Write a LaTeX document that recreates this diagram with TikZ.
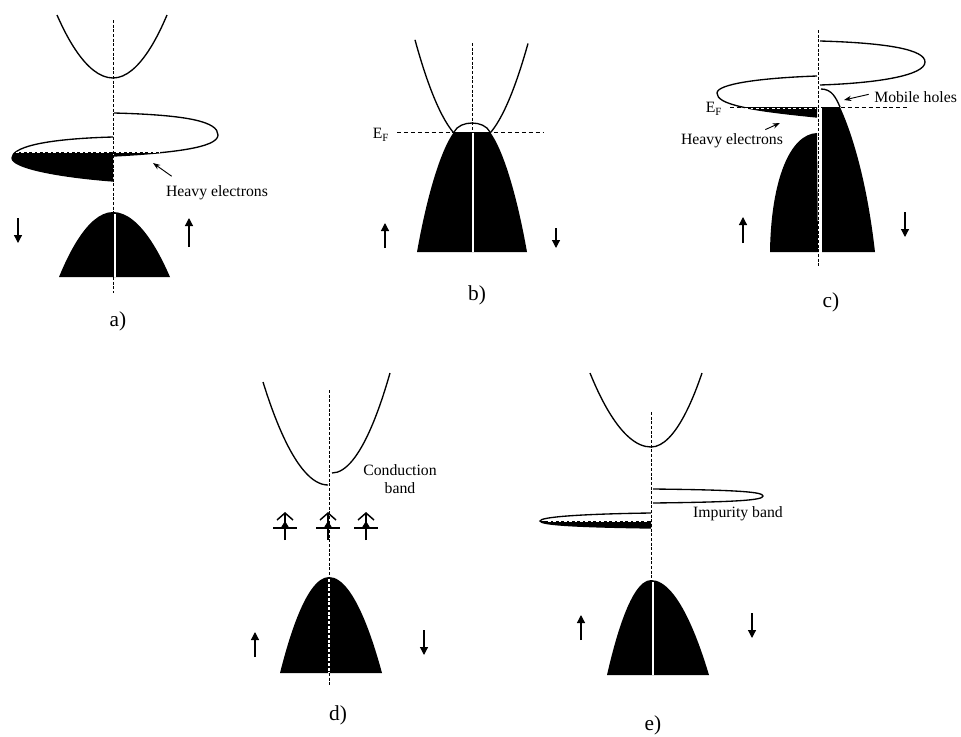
\documentclass[tikz,border=0pt]{standalone}
\usepackage{fontspec}
\setmainfont{Liberation Serif}
\usetikzlibrary{arrows.meta}
\begin{document}
\begin{tikzpicture}[x=0.75pt,y=-0.75pt,
  band/.style={line width=1pt},
  axisline/.style={line width=0.75pt, dash pattern=on 2.2pt off 1.3pt},
  efline/.style={line width=0.75pt, dash pattern=on 3pt off 2.2pt},
  fermiwhite/.style={white, line width=0.5pt, dash pattern=on 2pt off 2pt},
  gapline/.style={white, line width=1.4pt},
  spin/.style={line width=0.9pt, -{Triangle[length=6pt,width=6pt]}},
  pointer/.style={line width=0.7pt, -{Stealth[length=5.5pt,width=4pt]}},
  lbl/.style={font=\fontsize{11.8}{13.5}\selectfont, inner sep=0pt},
  panel/.style={font=\fontsize{16}{18}\selectfont, inner sep=0pt},
  implevel/.pic={
    \draw[line width=1.1pt] (-12,0) -- (12,0);
    \draw[line width=1.1pt] (0,12) -- (0,-15);
    \draw[line width=1.1pt] (-8,-8) -- (0,-15) -- (8,-8);
    \fill (-4,-0.5) -- (0,-7) -- (4,-0.5) -- cycle;
  }]
\useasboundingbox (0,0) rectangle (961,736);

% ================= panel a =================
\draw[axisline] (113,20) -- (113,212);
\draw[axisline] (113,277) -- (113,293);
\draw[band] (57,15) parabola bend (113,78) (167,15);
% right lobe
\begin{scope}
  \clip (113,152) rectangle (230,170);
  \fill (114,113) .. controls (190,115) and (218,122) .. (218,135) .. controls (218,148) and (170,153) .. (114,156) -- cycle;
\end{scope}
\draw[band] (114,113) .. controls (190,115) and (218,122) .. (218,135) .. controls (218,148) and (170,153) .. (114,156);
% left lobe
\begin{scope}
  \clip (0,152) rectangle (113,200);
  \fill (113,137) .. controls (40,139) and (12,148) .. (12,158) .. controls (12,168) and (60,177) .. (113,181) -- cycle;
\end{scope}
\draw[band] (113,137) .. controls (40,139) and (12,148) .. (12,158) .. controls (12,168) and (60,177) .. (113,181);
\draw[fermiwhite] (16,152.8) -- (112,152.8);
\draw[fermiwhite] (116,152.8) -- (160,152.8);
% valence
\fill (59,277) parabola bend (113,212) (170,277) -- cycle;
\draw[gapline] (115,214) -- (115,277);
\draw[spin] (18,218) -- (18,243);
\draw[spin] (189,247) -- (189,218);
\node[lbl] (hea) at (217,193) {Heavy electrons};
\coordinate (hetipa) at (153,163);
\draw[pointer] ([shift={(-34pt,7pt)}]hea.north) -- (hetipa);
\node[panel] (la) at (118,321) {a)};

% ================= panel b =================
\draw[band] plot[domain=-57:-18.3, samples=30] ({472+\x},{143.5-0.0319*\x*\x});
\draw[band] plot[domain=18.3:56, samples=30] ({472+\x},{143.5-0.0319*\x*\x});
\fill (417,252) .. controls (428,190) and (442,148) .. (454,132) -- (490,132) .. controls (502,148) and (516,190) .. (527,252) -- cycle;
\draw[band] (454,132) .. controls (460,120) and (484,120) .. (490,132);
\draw[axisline] (472,43) -- (472,131);
\draw[efline] (397,132) -- (543,132);
\draw[gapline] (473,133) -- (473,252);
\node[lbl] (efb) at (381,135) {E\textsubscript{F}};
\draw[spin] (385,248) -- (385,223);
\draw[spin] (556,228) -- (556,248);
\node[panel] (lb) at (477,295) {b)};

% ================= panel c =================
\draw[axisline] (818,30) -- (818,267);
\draw[band] (820,41) .. controls (890,43) and (925,50) .. (925,62) .. controls (925,75) and (880,83) .. (820,85);
\begin{scope}
  \clip (700,107) rectangle (817,130);
  \fill (817,76) .. controls (760,78) and (717,84) .. (717,93) .. controls (717,104) and (745,110) .. (817,117) -- cycle;
\end{scope}
\draw[band] (817,76) .. controls (760,78) and (717,84) .. (717,93) .. controls (717,104) and (745,110) .. (817,117);
\fill (817,133) .. controls (790,134) and (771,180) .. (770,252) -- (818,252) -- cycle;
\fill (822,107) -- (840,107) .. controls (855,140) and (868,190) .. (875,252) -- (822,252) -- cycle;
\draw[band] (821,89) .. controls (832,89) and (836,98) .. (840,107);
\draw[efline] (730,107) -- (907,107);
\draw[fermiwhite] (740,108.3) -- (815,108.3);
\draw[gapline] (819.8,107) -- (819.8,252);
\node[lbl] (efc) at (714,109) {E\textsubscript{F}};
\node[lbl, anchor=west] (mh) at (874,97) {Mobile holes};
\coordinate (mhtip) at (844,100);
\draw[pointer] ([shift={(-4pt,2pt)}]mh.west) -- (mhtip);
\node[lbl] (hec) at (732,141) {Heavy electrons};
\coordinate (hetipc) at (780,123);
\draw[pointer] ([shift={(25pt,3pt)}]hec.north) -- (hetipc);
\draw[spin] (743,243) -- (743,217);
\draw[spin] (905,212) -- (905,237);
\node[panel] (lc) at (831,302) {c)};

% ================= panel d =================
\draw[axisline] (329,390) -- (329,577);
\draw[axisline] (329,673) -- (329,685);
\draw[band] (328,485) parabola (263,382);
\draw[band] (332,473) parabola (390,373);
\node[lbl, align=center] (cb) at (400,479) {Conduction\\band};
\pic at (285,528) {implevel};
\pic at (328,528) {implevel};
\pic at (366,528) {implevel};
\fill (280,673) parabola bend (329,577) (382,673) -- cycle;
\draw[axisline, white, line width=1pt] (329,579) -- (329,673);
\draw[spin] (255,657) -- (255,632);
\draw[spin] (424,630) -- (424,655);
\node[panel] (ld) at (338,715) {d)};

% ================= panel e =================
\draw[axisline] (651,412) -- (651,580);
\draw[band] (590,373) parabola bend (651,447) (702,373);
\draw[band] (653,489) .. controls (740,490) and (763,492) .. (763,496) .. controls (763,500) and (740,502) .. (653,503);
\begin{scope}
  \clip (530,521) rectangle (651,535);
  \fill (651,513) .. controls (580,514) and (540,517) .. (540,521) .. controls (540,525) and (580,527) .. (651,528) -- cycle;
\end{scope}
\draw[band] (651,513) .. controls (580,514) and (540,517) .. (540,521) .. controls (540,525) and (580,527) .. (651,528);
\draw[fermiwhite] (548,521.8) -- (649,521.8);
\node[lbl] (ib) at (738,514) {Impurity band};
\fill (607,675) parabola bend (651,580) (709,675) -- cycle;
\draw[gapline] (653,582) -- (653,675);
\draw[spin] (581,640) -- (581,615);
\draw[spin] (752,613) -- (752,638);
\node[panel] (le) at (653,725) {e)};
\end{tikzpicture}
\end{document}
